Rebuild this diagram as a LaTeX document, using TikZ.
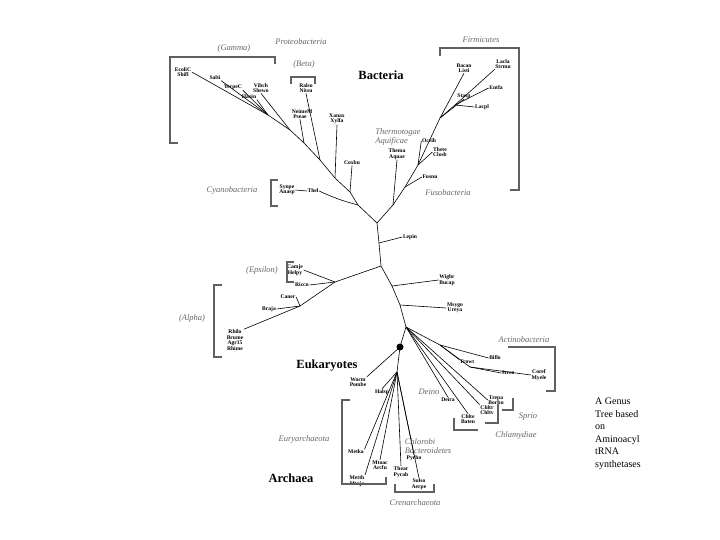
\documentclass[tikz,border=0pt]{standalone}
\usepackage{fontspec}
\setmainfont{Liberation Serif}
\begin{document}
\begin{tikzpicture}[x=1pt,y=-1pt,
 sp/.style={font=\bfseries\fontsize{5.6}{5.4}\selectfont,align=center,inner sep=0.5pt},
 grp/.style={font=\itshape\fontsize{8.5}{9}\selectfont,text=gray!80!black,align=left,inner sep=0.5pt},
 big/.style={font=\bfseries\fontsize{12.5}{12}\selectfont,inner sep=0pt},
 br/.style={line width=0.6pt},
 bk/.style={draw=gray!75!black,line width=2.2pt}]
\useasboundingbox (0,0) rectangle (720,540);
% junctions
\coordinate (C) at (377,223);
\coordinate (L) at (358,205);
\coordinate (R) at (393,205);
\coordinate (J1) at (379,243);
\coordinate (J2) at (381,266);
\coordinate (J3) at (392,286);
\coordinate (J4) at (400,305);
\coordinate (J5) at (406,327);
\coordinate (E) at (400,347);
% trunk
\draw[br] (L)--(C)--(R);
\draw[br] (C)--(J1)--(J2)--(J3)--(J4)--(J5)--(E);
\fill (E) circle (3.5);
% species labels
\node[sp] (lepin) at (410,237) {Lepin};
\node[sp] (camje) at (295,270) {Camje\\Helpy};
\node[sp] (riccn) at (302,285) {Riccn};
\node[sp] (caner) at (288,297) {Caner};
\node[sp] (braja) at (269,309) {Braja};
\node[sp] (rhizo) at (235,340) {Rhilo\\Brume\\Agr15\\Rhime};
\node[sp] (wigbr) at (447,280) {Wigbr\\Bucap};
\node[sp] (msygo) at (455,308) {Msygo\\Ureya};
\node[sp] (synpe) at (287,190) {Synpe\\Anasp};
\node[sp] (thed) at (313,191) {Thel};
\node[sp] (coxbu) at (352,163) {Coxbu};
\node[sp] (xanax) at (337,119) {Xanax\\Xylfa};
\node[sp] (ralso) at (306,88) {Ralso\\Nitsu};
\node[sp] (neime) at (300,114) {~~~NeimeM\\Pseae};
\node[sp] (vibch) at (261,88) {Vibch\\Shewo};
\node[sp] (haein) at (249,97) {Haein};
\node[sp] (yerpe) at (233,87) {YerpeC};
\node[sp] (salti) at (215,78) {Salti};
\node[sp] (ecoli) at (183,72) {EcoliC\\Shifl};
\node[sp] (thema) at (397,154) {Thema\\Aquae};
\node[sp] (fusnu) at (430,177) {Fusnu};
\node[sp] (thete) at (440,152) {Thete\\Closb};
\node[sp] (oceih) at (429,141) {Oceih};
\node[sp] (bacan) at (464,68) {Bacan\\Listi};
\node[sp] (stasp) at (464,96) {Stasp};
\node[sp] (lacpl) at (482,107) {Lacpl};
\node[sp] (entfa) at (496,88) {Entfa};
\node[sp] (lacla) at (503,64) {Lacla\\Strmu};
\node[sp] (worm) at (358,382) {Worm\\Pombe};
\node[sp] (halsp) at (382,392) {Halsp};
\node[sp] (metka) at (356,452) {Metka};
\node[sp] (metth) at (357,481) {Metth\\Mtoja};
\node[sp] (mtoac) at (380,465) {Mtoac\\Arcfu};
\node[sp] (thear) at (401,472) {Thear\\Pyrab};
\node[sp] (pyrho) at (414,458) {Pyrho};
\node[sp] (sulso) at (419,484) {Sulso\\Aerpe};
\node[sp] (bifla) at (495,358) {Biflo};
\node[sp] (trowt) at (467,362) {Trowt};
\node[sp] (strco) at (508,373) {Strco};
\node[sp] (coref) at (539,375) {Coref\\Myele};
\node[sp] (trepa) at (496,400) {Trepa\\Borbu};
\node[sp] (chltr) at (487,410) {Chltr\\Chltv};
\node[sp] (chlte) at (468,419) {Chlte\\Baten};
\node[sp] (deira) at (448,400) {Deira};
% bacteria left
\coordinate (p1) at (350,192);
\coordinate (p2) at (335,178);
\coordinate (p3) at (320,160);
\coordinate (p4) at (304,143);
\coordinate (p5) at (290,130);
\coordinate (p6) at (268,115);
\draw[br] (L) to[bend left=5] (thed.east);
\draw[br] (thed.west) -- (synpe.east);
\draw[br] (L)--(p1)--(p2)--(p3)--(p4)--(p5)--(p6)--(ecoli.east);
\draw[br] (p1)--(coxbu.south);
\draw[br] (p2)--(xanax.south);
\draw[br] (p3)--(ralso.south);
\draw[br] (p4)--(neime.south);
\draw[br] (p5)--(vibch.south);
\draw[br] (p6)--(haein.south east);
\draw[br] (p6)--(yerpe.south east);
\draw[br] (p6)--(salti.south east);
% bacteria right
\coordinate (q1) at (405,187);
\coordinate (q2) at (418,165);
\coordinate (q3) at (440,118);
\coordinate (q4) at (455,105);
\draw[br] (R)--(thema.south);
\draw[br] (R)--(q1)--(q2)--(q3)--(q4)--(lacla.south west);
\draw[br] (q1)--(fusnu.west);
\draw[br] (q2)--(thete.west);
\draw[br] (q2)--(oceih.west);
\draw[br] (q3)--(bacan.south);
\draw[br] (q3)--(stasp.south);
\draw[br] (q4)--(lacpl.west);
\draw[br] (q4)--(entfa.west);
% middle
\coordinate (a1) at (335,282);
\coordinate (a2) at (300,306);
\draw[br] (J1)--(lepin.west);
\draw[br] (J2)--(a1)--(camje.east);
\draw[br] (a1)--(riccn.east);
\draw[br] (a1)--(a2)--(rhizo.north east);
\draw[br] (a2)--(caner.east);
\draw[br] (a2)--(braja.east);
\draw[br] (J3)--(wigbr.west);
\draw[br] (J4)--(msygo.west);
% actino etc
\coordinate (b1) at (440,345);
\coordinate (b2) at (470,367);
\draw[br] (J5)--(b1)--(b2)--(coref.west);
\draw[br] (b1)--(bifla.west);
\draw[br] (b1)--(trowt.north west);
\draw[br] (b2)--(strco.west);
\draw[br] (J5)--(trepa.west);
\draw[br] (J5)--(chltr.north west);
\draw[br] (J5)--(chlte.north);
\draw[br] (J5)--(deira.north);
% euk/archaea
\coordinate (c1) at (397,372);
\draw[br] (E)--(worm.north east);
\draw[br] (E)--(c1)--(halsp.north);
\draw[br] (c1)--(metka.north east);
\draw[br] (c1)--(metth.north east);
\draw[br] (c1)--(mtoac.north);
\draw[br] (c1)--(thear.north);
\draw[br] (c1)--(pyrho.north);
\draw[br] (c1)--(sulso.north);
% brackets
\draw[bk] (275,64)--(275,57)--(170,57)--(170,143)--(178,143);
\draw[bk] (291,84)--(291,77)--(315,77)--(315,84);
\draw[bk] (440,56)--(440,48)--(519,48)--(519,190)--(510,190);
\draw[bk] (278,180)--(271,180)--(271,206)--(278,206);
\draw[bk] (294,262)--(287,262)--(287,282)--(294,282);
\draw[bk] (222,285)--(214,285)--(214,357)--(222,357);
\draw[bk] (508,347)--(555,347)--(555,391)--(546,391);
\draw[bk] (513,398)--(513,410)--(502,410);
\draw[bk] (498,404)--(498,423)--(485,423);
\draw[bk] (454,418)--(454,430)--(478,430);
\draw[bk] (350,400)--(342,400)--(342,484)--(386,484)--(386,477);
\draw[bk] (395,484)--(395,492)--(434,492)--(434,484);
% group labels
\node[grp] at (234,48) {(Gamma)};
\node[grp] at (301,42) {Proteobacteria};
\node[grp] at (304,64) {(Beta)};
\node[grp] at (481,40) {Firmicutes};
\node[grp] at (398,137) {Thermotogae\\Aquificae};
\node[grp] at (448,193) {Fusobacteria};
\node[grp] at (232,190) {Cyanobacteria};
\node[grp] at (262,270) {(Epsilon)};
\node[grp] at (192,318) {(Alpha)};
\node[grp] at (524,340) {Actinobacteria};
\node[grp] at (429,392) {Deino};
\node[grp] at (528,417) {Sprio};
\node[grp] at (516,435) {Chlamydiae};
\node[grp] at (428,446) {Chlorobi\\Bacteroidetes};
\node[grp] at (304,439) {Euryarchaeota};
\node[grp] at (415,503) {Crenarchaeota};
\node[big] at (381,75) {Bacteria};
\node[big] at (327,366) {Eukaryotes};
\node[big] at (291,478) {Archaea};
\node[font=\fontsize{10}{12.5}\selectfont,align=left,anchor=north west,inner sep=0pt] at (595,398) {A Genus\\Tree based\\on\\Aminoacyl\\tRNA\\synthetases};
\end{tikzpicture}
\end{document}
